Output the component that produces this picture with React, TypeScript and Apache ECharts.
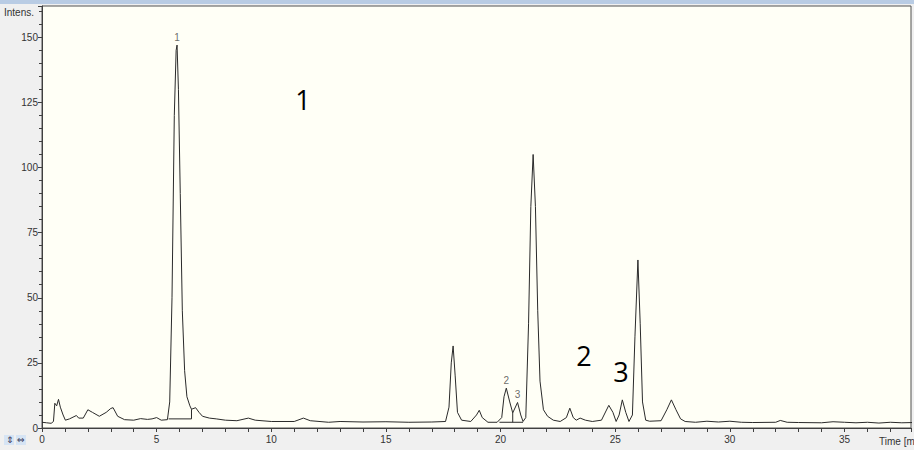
import React, { useEffect, useRef } from "react";
import * as echarts from "echarts";

// Chromatogram trace: [time (min), intensity]
const trace: [number, number][] = [
  [0, 2.2], [0.2, 2.0], [0.4, 1.8], [0.5, 2.5], [0.56, 9.5], [0.64, 8.5], [0.72, 11], [0.8, 8],
  [0.92, 5], [1.02, 3], [1.2, 3.5], [1.5, 4.8], [1.6, 3.8], [1.8, 3.8], [2.0, 7], [2.2, 6],
  [2.5, 4.5], [2.8, 6], [3.0, 7.5], [3.1, 7.8], [3.3, 4.5], [3.6, 3.2], [4.0, 3.0], [4.3, 3.6],
  [4.6, 3.3], [4.8, 3.5], [5.0, 4.0], [5.2, 3.0], [5.47, 3.2], [5.57, 10], [5.67, 50], [5.77, 120],
  [5.85, 145], [5.89, 147], [5.95, 130], [6.03, 90], [6.12, 45], [6.22, 22], [6.32, 12], [6.45, 8.5],
  [6.52, 7.2], [6.7, 7.8], [6.85, 6], [7.0, 4.5], [7.3, 3.8], [7.6, 3.5], [8.0, 3.0], [8.5, 2.8],
  [9.0, 3.8], [9.3, 3.0], [10.0, 2.5], [11.0, 2.5], [11.4, 3.8], [11.7, 2.8], [12.5, 2.2], [13.0, 2.5],
  [14, 2.3], [15, 2.4], [16, 2.2], [17, 2.3], [17.6, 2.5], [17.75, 8], [17.85, 25], [17.93, 31.5],
  [18.02, 20], [18.12, 6], [18.3, 3], [18.7, 2.5], [18.95, 5], [19.07, 6.8], [19.2, 4], [19.45, 2.2],
  [19.85, 2.2], [20.05, 4], [20.15, 12], [20.25, 15.3], [20.4, 10], [20.53, 5.8], [20.74, 9.8], [20.88, 5],
  [20.98, 2.5], [21.1, 4], [21.22, 40], [21.32, 85], [21.42, 105], [21.52, 85], [21.62, 45], [21.72, 18],
  [21.87, 7], [22.05, 4.5], [22.3, 3], [22.6, 2.5], [22.87, 4], [23.02, 7.6], [23.17, 4], [23.3, 3],
  [23.47, 3.8], [23.7, 3], [24.0, 2.5], [24.4, 3], [24.72, 8.7], [24.9, 6], [25.04, 2.5], [25.17, 5],
  [25.31, 10.8], [25.46, 6], [25.6, 2.5], [25.75, 5], [25.86, 35], [25.99, 64.5], [26.09, 40], [26.19, 10],
  [26.33, 3], [26.5, 2.6], [27.0, 2.8], [27.25, 7], [27.45, 10.8], [27.65, 7], [27.85, 3.5], [28.05, 2.5],
  [28.5, 2.2], [29.0, 2.6], [29.5, 2.3], [30, 2.6], [30.5, 2.2], [31, 2.1], [32, 2.2], [32.2, 2.9],
  [32.5, 2.2], [33, 2.1], [34, 2.0], [34.5, 2.4], [35, 2.2], [35.5, 2.0], [36, 2.2], [36.5, 1.9],
  [37, 2.2], [37.5, 2.0], [38, 2.1],
];

// Integration baselines (drop lines) under the labelled peaks
const integrationPeak1: ([number, number] | null)[] = [[5.52, 3.5], [6.52, 3.5], [6.52, 7.2]];
const integrationPeak23: ([number, number] | null)[] = [[19.95, 2.2], [20.98, 2.2], null, [20.53, 2.2], [20.53, 5.8]];

// Peak labels: [time, intensity, label]
const peakLabels: [number, number, string][] = [
  [5.89, 147, "1"],
  [20.25, 15.3, "2"],
  [20.74, 9.8, "3"],
];

const xTicks = [0, 5, 10, 15, 20, 25, 30, 35];
const yTicks = [0, 25, 50, 75, 100, 125, 150];

export default function App() {
  const ref = useRef<HTMLDivElement>(null);
  useEffect(() => {
    if (!ref.current) return;
    const chart = echarts.init(ref.current, undefined, { renderer: "svg" });
    const font = "Liberation Sans";
    chart.setOption({
      animation: false,
      backgroundColor: "#F0F0F0",
      grid: {
        left: 42,
        right: 0,
        top: 6,
        bottom: 22,
        show: true,
        backgroundColor: "#FFFFF6",
        borderColor: "#505050",
        borderWidth: 1,
      },
      xAxis: {
        type: "value",
        min: 0,
        max: 37.9,
        interval: 5,
        axisLine: { show: true, onZero: false, lineStyle: { color: "#404040", width: 1 } },
        axisTick: { show: true, length: 4, lineStyle: { color: "#404040" } },
        minorTick: { show: true, splitNumber: 5, length: 4, lineStyle: { color: "#404040" } },
        splitLine: { show: false },
        axisLabel: {
          color: "#333",
          fontFamily: font,
          fontSize: 10,
          margin: 6,
          formatter: (v: number) => (xTicks.includes(v) ? String(v) : ""),
        },
      },
      yAxis: {
        type: "value",
        min: 0,
        max: 162,
        interval: 25,
        axisLine: { show: true, lineStyle: { color: "#404040", width: 1 } },
        axisTick: { show: true, length: 4, lineStyle: { color: "#404040" } },
        minorTick: { show: true, splitNumber: 5, length: 3, lineStyle: { color: "#404040" } },
        splitLine: { show: false },
        axisLabel: {
          color: "#333",
          fontFamily: font,
          fontSize: 10,
          margin: 4,
          formatter: (v: number) => (yTicks.includes(v) ? String(v) : ""),
        },
      },
      series: [
        {
          type: "line",
          data: trace,
          showSymbol: false,
          symbol: "none",
          lineStyle: { color: "#2a2a2a", width: 1 },
          z: 3,
        },
        {
          type: "line",
          data: integrationPeak1,
          showSymbol: false,
          symbol: "none",
          lineStyle: { color: "#2a2a2a", width: 1 },
        },
        {
          type: "line",
          data: integrationPeak23,
          showSymbol: false,
          symbol: "none",
          connectNulls: false,
          lineStyle: { color: "#2a2a2a", width: 1 },
        },
        {
          type: "scatter",
          data: peakLabels,
          symbolSize: 1,
          itemStyle: { color: "rgba(0,0,0,0)" },
          label: {
            show: true,
            position: "top",
            distance: 2,
            color: "#444",
            fontFamily: font,
            fontSize: 10,
            formatter: (p: any) => p.data[2],
          },
          z: 5,
        },
      ],
      graphic: [
        { type: "rect", shape: { x: 0, y: 0, width: 914, height: 4 }, style: { fill: "#B9CCE4" } },
        { type: "text", x: 4, y: 7, style: { text: "Intens.", fill: "#333", font: `10px ${font}` } },
        { type: "text", x: 879, y: 436, style: { text: "Time [min]", fill: "#333", font: `10px ${font}` } },
        { type: "rect", shape: { x: 4, y: 435, width: 10, height: 10 }, style: { fill: "#D6E4F4" } },
        { type: "rect", shape: { x: 16, y: 435, width: 10, height: 10 }, style: { fill: "#D6E4F4" } },
        { type: "text", x: 6, y: 435, style: { text: "⇕", fill: "#335", font: `9px DejaVu Sans` } },
        { type: "text", x: 17, y: 435, style: { text: "⇔", fill: "#335", font: `9px DejaVu Sans` } },
        { type: "text", x: 303, y: 99, style: { text: "1", fill: "#000", font: `27px Open Sans`, align: "center", verticalAlign: "middle" } },
        { type: "text", x: 584, y: 355, style: { text: "2", fill: "#000", font: `27px Open Sans`, align: "center", verticalAlign: "middle" } },
        { type: "text", x: 621, y: 371, style: { text: "3", fill: "#000", font: `27px Open Sans`, align: "center", verticalAlign: "middle" } },
      ],
    });
    return () => chart.dispose();
  }, []);
  return <div ref={ref} style={{ position: "fixed", left: 0, top: 0, width: 914, height: 450 }} />;
}
